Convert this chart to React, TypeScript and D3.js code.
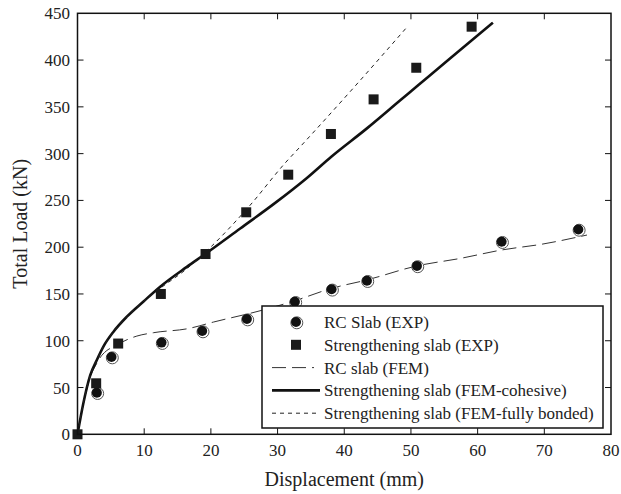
import * as d3 from 'd3'

// experimental points
const rcExpX = [2.9, 5.1, 12.6, 18.7, 25.4, 32.6, 38.1, 43.4, 50.9, 63.6, 75.1]
const rcExpY = [44.5, 82.6, 98, 110.4, 123.2, 141.7, 155, 164.2, 180, 205.9, 219]
const strExpX = [0, 2.8, 6.1, 12.5, 19.2, 25.3, 31.6, 38.0, 44.4, 50.8, 59.1]
const strExpY = [0, 54.5, 97, 150, 192.7, 237.3, 277.5, 321, 358, 391.8, 435.7]

// FEM curves
const rcFemX = [0, 0.9, 1.9, 2.9, 3.3, 4.3, 5.4, 6.5, 8.9, 11.4, 16.6, 20.4, 27.9, 32.6, 38.1, 43.4, 50.9, 57.4, 63.6, 69.8, 76.4]
const rcFemY = [0, 33, 61, 76, 81, 89, 93.6, 98, 105, 108.6, 113, 120, 133, 142.8, 156, 165, 180, 188, 197, 203.4, 213]
const cohX = [0, 0.87, 1.9, 2.9, 3.9, 5.4, 7.4, 9.9, 12.4, 16.4, 19.2, 24.4, 29.4, 34.4, 38.1, 43.4, 48.4, 50.9, 55.9, 62.3]
const cohY = [0, 33, 63, 79.4, 94, 109.7, 125.7, 142, 157.8, 179, 193, 220, 246, 274, 297, 327, 357, 372, 402, 440]
const bondX = [0, 0.87, 1.9, 2.9, 3.9, 5.4, 7.4, 9.9, 12.4, 16.4, 20.1, 25.9, 31.1, 33.4, 41.1, 49.5]
const bondY = [0, 33, 63, 79.4, 94, 109.7, 125.7, 142, 156, 177, 201, 245, 289.7, 307.4, 368, 436]

const xTicks = [0, 10, 20, 30, 40, 50, 60, 70, 80]
const yTicks = [0, 50, 100, 150, 200, 250, 300, 350, 400, 450]

const legendLabels = [
  'RC Slab (EXP)',
  'Strengthening slab (EXP)',
  'RC slab (FEM)',
  'Strengthening slab (FEM-cohesive)',
  'Strengthening slab (FEM-fully bonded)',
]

const font = "'Liberation Serif', 'Times New Roman', serif"

export default function App() {
  const width = 621
  const height = 494
  const left = 77.5, right = 611, top = 13.3, bottom = 434.3

  const x = d3.scaleLinear().domain([0, 80]).range([left, right])
  const y = d3.scaleLinear().domain([0, 450]).range([bottom, top])

  const line = d3.line<[number, number]>()
    .x(d => x(d[0]))
    .y(d => y(d[1]))
    .curve(d3.curveMonotoneX)

  const zip = (a: number[], b: number[]) => a.map((v, i) => [v, b[i]] as [number, number])

  const circle = (cx: number, cy: number, key: string) => (
    <g key={key}>
      <circle cx={cx + 0.8} cy={cy + 0.8} r={6} fill="white" stroke="#555" strokeWidth={1} />
      <circle cx={cx} cy={cy} r={5} fill="#111" />
    </g>
  )
  const square = (cx: number, cy: number, key: string) => (
    <rect key={key} x={cx - 5} y={cy - 5} width={10} height={10} fill="#1a1a1a" />
  )

  const legX = 262, legY = 306, legW = 341, legH = 122
  const rowY = (i: number) => 322 + i * 22.8

  return (
    <svg width={width} height={height} style={{ position: 'absolute', left: 0, top: 0, background: 'white' }}
      fontFamily={font}>
      {/* curves */}
      <path d={line(zip(rcFemX, rcFemY)) || ''} fill="none" stroke="#333" strokeWidth={1} strokeDasharray="14,6" />
      <path d={line(zip(cohX, cohY)) || ''} fill="none" stroke="#111" strokeWidth={2.6} />
      <path d={line(zip(bondX, bondY)) || ''} fill="none" stroke="#222" strokeWidth={1} strokeDasharray="4,4" />

      {/* markers */}
      {rcExpX.map((v, i) => circle(x(v), y(rcExpY[i]), 'c' + i))}
      {strExpX.map((v, i) => square(x(v), y(strExpY[i]), 's' + i))}

      {/* frame */}
      <rect x={left} y={top} width={right - left} height={bottom - top} fill="none" stroke="#111" strokeWidth={1.5} />
      {xTicks.slice(1, -1).map(t => (
        <g key={'xt' + t}>
          <line x1={x(t)} x2={x(t)} y1={bottom} y2={bottom - 6} stroke="#111" strokeWidth={1} />
          <line x1={x(t)} x2={x(t)} y1={top} y2={top + 6} stroke="#111" strokeWidth={1} />
        </g>
      ))}
      {yTicks.slice(1, -1).map(t => (
        <g key={'yt' + t}>
          <line x1={left} x2={left + 6} y1={y(t)} y2={y(t)} stroke="#111" strokeWidth={1} />
          <line x1={right} x2={right - 6} y1={y(t)} y2={y(t)} stroke="#111" strokeWidth={1} />
        </g>
      ))}
      {xTicks.map(t => (
        <text key={'xl' + t} x={x(t)} y={456} fontSize={17} textAnchor="middle" fill="#222">{t}</text>
      ))}
      {yTicks.map(t => (
        <text key={'yl' + t} x={70} y={y(t) + 6} fontSize={17} textAnchor="end" fill="#222">{t}</text>
      ))}
      <text x={(left + right) / 2} y={486} fontSize={20} textAnchor="middle" fill="#222">Displacement (mm)</text>
      <text transform={`translate(27,${(top + bottom) / 2}) rotate(-90)`} fontSize={20} textAnchor="middle" fill="#222">Total Load (kN)</text>

      {/* legend */}
      <rect x={legX} y={legY} width={legW} height={legH} fill="white" stroke="#111" strokeWidth={1.5} />
      {circle(296, rowY(0), 'lc')}
      {square(296, rowY(1), 'ls')}
      <line x1={272} x2={314} y1={rowY(2)} y2={rowY(2)} stroke="#333" strokeWidth={1} strokeDasharray="14,6" />
      <line x1={272} x2={320} y1={rowY(3)} y2={rowY(3)} stroke="#111" strokeWidth={2.6} />
      <line x1={272} x2={320} y1={rowY(4)} y2={rowY(4)} stroke="#222" strokeWidth={1} strokeDasharray="4,4" />
      {legendLabels.map((l, i) => (
        <text key={'lg' + i} x={324} y={rowY(i) + 6} fontSize={17} fill="#222">{l}</text>
      ))}
    </svg>
  )
}
